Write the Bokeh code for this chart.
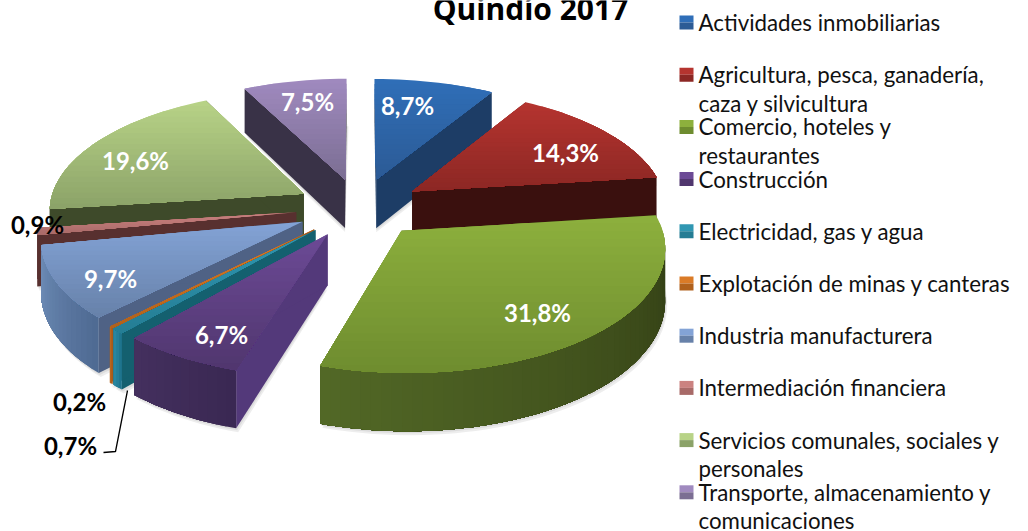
import math
import numpy as np
from bokeh.plotting import figure
from bokeh.models import Range1d
from bokeh.embed import file_html
from bokeh.resources import INLINE
from bokeh.core.properties import value

# ---- data ----
title = "Quindío 2017"
categories = ["Actividades inmobiliarias",
              "Agricultura, pesca, ganadería,\ncaza y silvicultura",
              "Comercio, hoteles y\nrestaurantes",
              "Construcción",
              "Electricidad, gas y agua",
              "Explotación de minas y canteras",
              "Industria manufacturera",
              "Intermediación financiera",
              "Servicios comunales, sociales y\npersonales",
              "Transporte, almacenamiento y\ncomunicaciones"]
shares = [8.7, 14.3, 31.8, 6.7, 0.7, 0.2, 9.7, 0.9, 19.6, 7.5]

# ---- style ----
top_a = ["#2F6EB8", "#B5342F", "#8DB03D", "#6C4A96", "#3097B2", "#DA7B27", "#83A3D6", "#CB8280", "#B8D387", "#A08ABF"]
top_b = ["#2C5B95", "#8C2724", "#6E8C2F", "#50366E", "#257D94", "#B0611C", "#6781A9", "#A86A68", "#8BA268", "#7B6E93"]
wall_a = ["#1F416E", "#3A100E", "#2F3A13", "#3A2852", "#1D7189", "#A5591A", "#4E6A92", "#56302E", "#3F4B2B", "#3A3248"]
wall_b = ["#1F416E", "#3A100E", "#526826", "#44305F", "#2A8AA5", "#C06A20", "#6F8DB8", "#56302E", "#3F4B2B", "#3A3248"]
cut_col = ["#1D3D66", "#3A100E", "#2F3A13", "#53397A", "#14606F", "#A5591A", "#4F6285", "#58302F", "#3E4A2A", "#393247"]
draw_order = [9, 0, 8, 1, 7, 6, 5, 4, 3, 2]

CX, CY, A, B, K, H, EXPL = 359.0, 207.0, 255.0, 119.0, 0.12, 50.0, 0.25

label_pos = [(407, 105), (565, 152), (537, 312), (221, 334), (70, 445),
             (79, 401), (110, 278), (37, 224), (135, 160), (307, 101)]
label_col = ["white", "white", "white", "white", "black", "black", "white", "black", "white", "white"]

FONT = "Lato"


def proj(X, Y, z=0.0):
    s = 1.0 / (1.0 - K * Y)
    return CX + A * X * s, CY + (B * Y + H * z) * s


def hex2rgb(h):
    return np.array([int(h[i:i + 2], 16) for i in (1, 3, 5)], dtype=float)


def mix(c1, c2, t):
    v = hex2rgb(c1) * (1 - t) + hex2rgb(c2) * t
    return "#%02x%02x%02x" % tuple(int(round(x)) for x in v)


def clip_below(poly, y0):
    out = []
    n = len(poly)
    for i in range(n):
        a, b = poly[i], poly[(i + 1) % n]
        ina, inb = a[1] >= y0, b[1] >= y0
        if ina:
            out.append(a)
        if ina != inb:
            t = (y0 - a[1]) / (b[1] - a[1])
            out.append((a[0] + t * (b[0] - a[0]), y0))
    return out


xs, ys, cols = [], [], []
sh_xs, sh_ys = [], []


def add(poly, col):
    xs.append([p[0] for p in poly])
    ys.append([p[1] for p in poly])
    cols.append(col)


total = sum(shares)
starts = np.cumsum([0] + shares[:-1]) / total * 2 * math.pi
ends = np.cumsum(shares) / total * 2 * math.pi

for i in draw_order:
    t0, t1 = starts[i], ends[i]
    mid = (t0 + t1) / 2
    ax, ay = EXPL * math.sin(mid), -EXPL * math.cos(mid)
    n = max(3, int(math.degrees(t1 - t0) / 2))
    th = np.linspace(t0, t1, n + 1)
    ox = ax + np.sin(th)
    oy = ay - np.cos(th)
    top = [proj(x, y) for x, y in zip(ox, oy)]
    bot = [proj(x, y, 1.0) for x, y in zip(ox, oy)]
    apex_t, apex_b = proj(ax, ay), proj(ax, ay, 1.0)
    # soft shadow under the walls
    for off in (2, 4):
        sh = [(x + off * 0.5, y + off) for x, y in bot] + [(apex_b[0], apex_b[1] + off)]
        sh_xs.append([p[0] for p in sh])
        sh_ys.append([p[1] for p in sh])
    # cut walls
    add([apex_t, top[0], bot[0], apex_b], cut_col[i])
    add([apex_t, top[-1], bot[-1], apex_b], cut_col[i])
    # outer wall, only the part that faces the viewer, as nested overlapping polygons
    front = [j for j in range(n) if -math.cos((th[j] + th[j + 1]) / 2) > 0]
    if front:
        last = front[-1] + 1
        for j in front:
            add(top[j:last + 1] + bot[j:last + 1][::-1], mix(wall_a[i], wall_b[i], (j + 0.5) / n))
    # top face with vertical gradient, nested so no seams show
    poly = [apex_t] + top
    ymin, ymax = min(p[1] for p in poly), max(p[1] for p in poly)
    bands = 20
    for b in range(bands):
        y0 = ymin + (ymax - ymin) * b / bands
        piece = clip_below(poly, y0) if b else poly
        if len(piece) >= 3:
            add(piece, mix(top_a[i], top_b[i], (b + 0.5) / bands))

p = figure(width=1028, height=531, output_backend="svg", toolbar_location=None,
           x_range=Range1d(0, 1028), y_range=Range1d(531, 0), min_border=0,
           background_fill_color="white", border_fill_color="white", outline_line_color=None)
p.xaxis.visible = False
p.yaxis.visible = False
p.grid.visible = False

p.patches(sh_xs, sh_ys, fill_color="#000000", fill_alpha=0.07, line_color=None)
p.patches(xs, ys, fill_color=cols, line_color=None)

# leader line for the 0,7% slice
p.line([127, 115, 103], [390, 451, 452], line_color="black", line_width=1.3)

# value labels
lab = ["%.1f%%" % v for v in shares]
lab = [s.replace(".", ",") for s in lab]
p.text([q[0] for q in label_pos], [q[1] for q in label_pos], text=lab, text_color=label_col,
       text_font=value(FONT), text_font_style="bold", text_font_size="24px",
       text_align="center", text_baseline="middle")

# title, cropped by the top edge as in the reference
p.text([530], [8], text=[title], text_color="black", text_font=value("Open Sans"),
       text_font_style="bold", text_font_size="30px", text_align="center", text_baseline="middle")

# legend
lx, ly, lt = [], [], []
for i, c in enumerate(categories):
    yc = 22 + 52.2 * i
    p.quad(left=[679], right=[693], top=[yc - 7], bottom=[yc], fill_color=top_a[i], line_color=None)
    p.quad(left=[679], right=[693], top=[yc], bottom=[yc + 7], fill_color=top_b[i], line_color=None)
    for k, row in enumerate(c.split("\n")):
        lx.append(698)
        ly.append(yc + 28.5 * k)
        lt.append(row)
p.text(lx, ly, text=lt, text_color="#111111", text_font=value(FONT), text_font_size="22.3px",
       text_align="left", text_baseline="middle")

open("out.html", "w").write(file_html(p, INLINE))
